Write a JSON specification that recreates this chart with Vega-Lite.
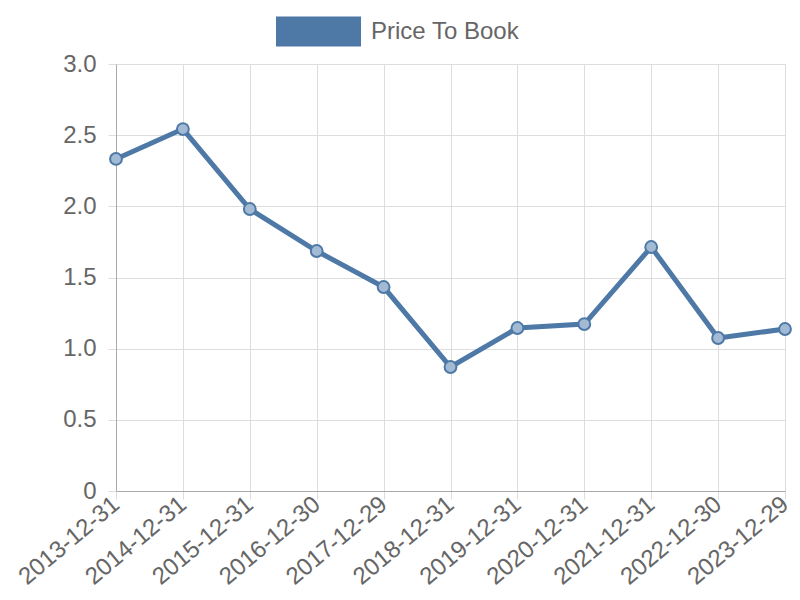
{
  "$schema": "https://vega.github.io/schema/vega-lite/v6.json",
  "autosize": "none",
  "width": 669,
  "height": 427,
  "padding": {"left": 116, "top": 64, "right": 15, "bottom": 109},
  "background": "white",
  "data": {
    "values": [
      {"date": "2013-12-31", "value": 2.333, "series": "Price To Book"},
      {"date": "2014-12-31", "value": 2.543, "series": "Price To Book"},
      {"date": "2015-12-31", "value": 1.981, "series": "Price To Book"},
      {"date": "2016-12-30", "value": 1.686, "series": "Price To Book"},
      {"date": "2017-12-29", "value": 1.433, "series": "Price To Book"},
      {"date": "2018-12-31", "value": 0.871, "series": "Price To Book"},
      {"date": "2019-12-31", "value": 1.145, "series": "Price To Book"},
      {"date": "2020-12-31", "value": 1.173, "series": "Price To Book"},
      {"date": "2021-12-31", "value": 1.714, "series": "Price To Book"},
      {"date": "2022-12-30", "value": 1.075, "series": "Price To Book"},
      {"date": "2023-12-29", "value": 1.138, "series": "Price To Book"}
    ]
  },
  "encoding": {
    "x": {
      "field": "date", "type": "ordinal",
      "scale": {"type": "point", "padding": 0},
      "axis": {
        "title": null, "labelAngle": -40, "labelAlign": "right", "labelBaseline": "middle",
        "labelFontSize": 24, "labelColor": "#666", "labelFont": "Liberation Sans",
        "grid": true, "gridColor": "#dddddd", "tickColor": "#dddddd", "tickSize": 8,
        "domainColor": "#aaaaaa", "labelPadding": 2
      }
    },
    "y": {
      "field": "value", "type": "quantitative",
      "scale": {"domain": [0, 3], "nice": false},
      "axis": {
        "title": null, "values": [0, 0.5, 1, 1.5, 2, 2.5, 3],
        "labelExpr": "datum.value == 0 ? '0' : format(datum.value, '.1f')",
        "labelFontSize": 24, "labelColor": "#666", "labelFont": "Liberation Sans",
        "grid": true, "gridColor": "#dddddd", "tickColor": "#dddddd", "tickSize": 8,
        "domainColor": "#aaaaaa", "labelPadding": 12
      }
    }
  },
  "layer": [
    {
      "mark": {"type": "line", "strokeWidth": 5, "color": "#4e79a7"},
      "encoding": {
        "color": {
          "field": "series", "type": "nominal",
          "scale": {"range": ["#4e79a7"]},
          "legend": {
            "title": null, "orient": "none", "legendX": 160, "legendY": -75,
            "symbolType": "M-1,-0.353H1V0.353H-1Z", "symbolSize": 7225,
            "symbolFillColor": "#4e79a7", "symbolStrokeWidth": 0, "symbolOpacity": 1,
            "labelFontSize": 24, "labelColor": "#666", "labelFont": "Liberation Sans",
            "labelOffset": 10
          }
        }
      }
    },
    {
      "mark": {"type": "point", "filled": true, "size": 140, "fill": "#a3bad4", "stroke": "#4e79a7", "strokeWidth": 2, "opacity": 1}
    }
  ]
}
